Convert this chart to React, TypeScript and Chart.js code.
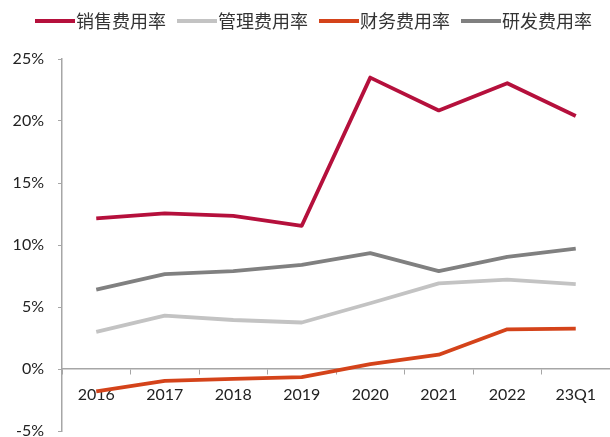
import React, { useEffect, useRef } from "react";
import { Chart, registerables } from "chart.js";

Chart.register(...registerables);

const categories = ["2016", "2017", "2018", "2019", "2020", "2021", "2022", "23Q1"];
const salesRate = [12.15, 12.55, 12.35, 11.55, 23.5, 20.85, 23.05, 20.4];
const adminRate = [3.0, 4.3, 3.95, 3.75, 5.3, 6.9, 7.2, 6.85];
const financeRate = [-1.8, -0.95, -0.8, -0.65, 0.4, 1.15, 3.2, 3.25];
const rdRate = [6.4, 7.65, 7.9, 8.4, 9.35, 7.9, 9.05, 9.7];
const seriesNames = ["销售费用率", "管理费用率", "财务费用率", "研发费用率"];
const yMin = -5;
const yMax = 25;
const yStep = 5;

const tickFont = { family: "Lato, 'Open Sans', sans-serif", size: 16 };
const axisColor = "#A6A6A6";

const legendPlugin = {
  id: "customLegend",
  afterDraw(chart: any) {
    const ctx = chart.ctx;
    ctx.save();
    ctx.font = "18px 'Noto Sans CJK SC'";
    ctx.textBaseline = "middle";
    let x = 35;
    const y = 21;
    chart.data.datasets.forEach((ds: any) => {
      ctx.strokeStyle = ds.borderColor;
      ctx.lineWidth = 4;
      ctx.beginPath();
      ctx.moveTo(x, y);
      ctx.lineTo(x + 40, y);
      ctx.stroke();
      ctx.fillStyle = "#333333";
      ctx.textAlign = "left";
      ctx.fillText(ds.label, x + 41, y);
      x += 41 + ctx.measureText(ds.label).width + 11;
    });
    ctx.restore();
  },
};

export default function App() {
  const ref = useRef<HTMLCanvasElement>(null);

  useEffect(() => {
    if (!ref.current) return;
    const chart = new Chart(ref.current, {
      type: "line",
      data: {
        labels: categories,
        datasets: [
          { label: seriesNames[0], data: salesRate, borderColor: "#B5103C", backgroundColor: "#B5103C" },
          { label: seriesNames[1], data: adminRate, borderColor: "#C3C3C3", backgroundColor: "#C3C3C3" },
          { label: seriesNames[2], data: financeRate, borderColor: "#D4431A", backgroundColor: "#D4431A" },
          { label: seriesNames[3], data: rdRate, borderColor: "#808080", backgroundColor: "#808080" },
        ],
      },
      options: {
        animation: false,
        responsive: false,
        layout: { padding: { top: 59, bottom: 6, left: 0, right: 0 } },
        plugins: { legend: { display: false }, tooltip: { enabled: false } },
        elements: {
          point: { radius: 0 },
          line: { tension: 0, borderWidth: 3.8, borderCapStyle: "butt", borderJoinStyle: "round" },
        },
        scales: {
          x: {
            type: "category",
            offset: true,
            position: { y: 0 } as any,
            grid: {
              offset: true,
              drawOnChartArea: false,
              drawTicks: true,
              tickLength: 5,
              color: axisColor,
              lineWidth: 1,
            },
            border: { color: axisColor, width: 1.5 },
            ticks: { font: tickFont, color: "#222222", padding: 11, maxRotation: 0, autoSkip: false },
            afterFit: (s: any) => {
              s.paddingLeft = 0;
              s.paddingRight = 0;
            },
          },
          y: {
            min: yMin,
            max: yMax,
            ticks: {
              stepSize: yStep,
              callback: (v: any) => v + "%",
              padding: 14,
              font: tickFont,
              color: "#222222",
            },
            grid: { drawOnChartArea: false, drawTicks: true, tickLength: 4, color: axisColor },
            border: { color: axisColor, width: 1.5 },
            afterFit: (s: any) => {
              s.width = 62;
              s.paddingTop = 0;
              s.paddingBottom = 0;
            },
          },
        },
      } as any,
      plugins: [legendPlugin],
    });
    return () => chart.destroy();
  }, []);

  return (
    <div style={{ position: "absolute", left: 0, top: 0, width: 610, height: 437, background: "#fff" }}>
      <canvas ref={ref} width={610} height={437} style={{ display: "block" }} />
    </div>
  );
}
